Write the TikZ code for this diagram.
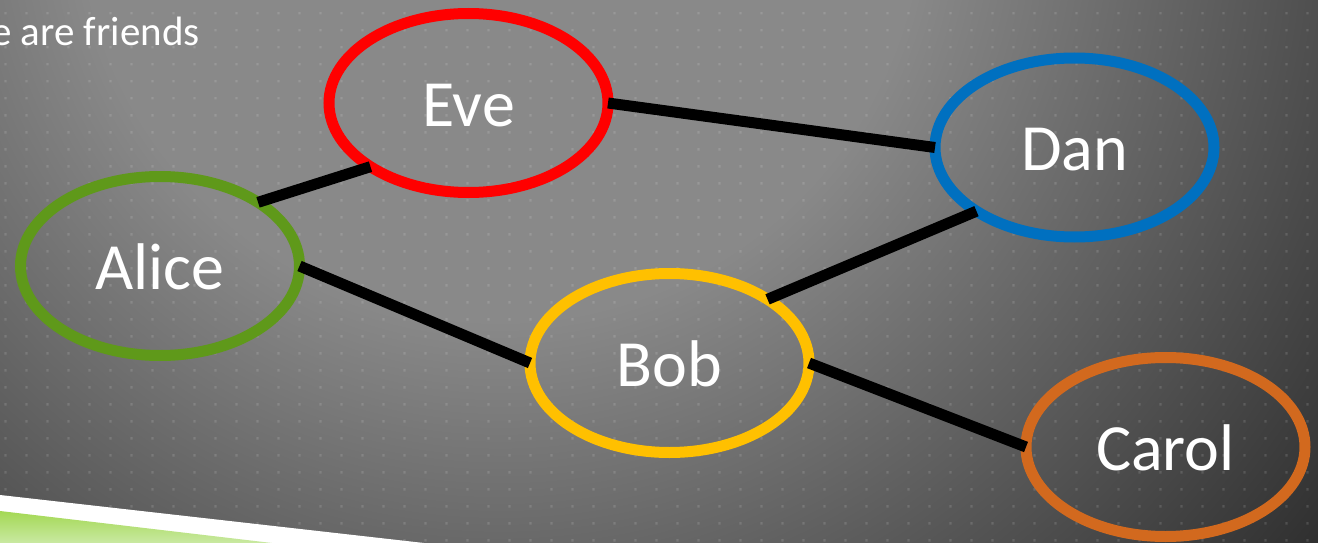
\documentclass[tikz,border=0pt]{standalone}
\usepackage{fontspec}
\setmainfont{Carlito}
\usetikzlibrary{shapes.geometric}

% slide colours
\definecolor{bgInner}{HTML}{898989}
\definecolor{bgOuter}{HTML}{2E2E2E}
\definecolor{eveRed}{HTML}{FF0000}
\definecolor{danBlue}{HTML}{0070C0}
\definecolor{aliceGreen}{HTML}{5F991A}
\definecolor{bobGold}{HTML}{FFC000}
\definecolor{carolOrange}{HTML}{D2691E}
\definecolor{swooshTop}{HTML}{A3D853}
\definecolor{swooshBottom}{HTML}{C9E9A2}

% soft light spot near the top of the slide
\pgfdeclareradialshading{slidebg}{\pgfpoint{0bp}{0bp}}{%
  color(0bp)=(bgInner); color(10bp)=(bgInner);
  color(25bp)=(bgOuter); color(50bp)=(bgOuter)}

\tikzset{
  person/.style={ellipse, draw, line width=11pt,
    minimum width=279pt, minimum height=179pt,
    inner sep=0pt, outer sep=0pt, text=white,
    font=\fontsize{66}{66}\selectfont,
    text height=46pt, text depth=0pt},
  link/.style={draw=black, line width=11pt, line cap=butt},
  gridDot/.style={fill=white, fill opacity=0.13},
}

\begin{document}
\begin{tikzpicture}[x=1pt, y=-1pt]
\useasboundingbox (0,0) rectangle (1318,543);

\begin{scope}
  \clip (0,0) rectangle (1318,543);
  % background
  \shade[shading=slidebg] (500,-100) circle (1050pt);
  % dotted grid
  \fill[gridDot] \foreach \i in {0,...,62} {
      \foreach \j in {0,...,31} {
        (5.5+21*\i-1.2, 13.3+17*\j-1.2) rectangle ++(2.4,2.4)
      }
    };
  % corner swoosh
  \fill[white] (0,495) -- (424,543) -- (0,543) -- cycle;
  \shade[top color=swooshTop, bottom color=swooshBottom]
    (0,511) -- (272,543) -- (0,543) -- cycle;
  % heading line
  \node[anchor=base west, inner sep=0pt, text=white,
        font=\fontsize{41}{41}\selectfont] (heading) at (-9,46) {e are friends};
\end{scope}

% people
\node[person, draw=eveRed]      (eve)   at (468.5,103)   {Eve};
\node[person, draw=danBlue]     (dan)   at (1074.5,147.5) {Dan};
\node[person, draw=aliceGreen]  (alice) at (160,266)     {Alice};
\node[person, draw=bobGold]     (bob)   at (669.5,363)   {Bob};
\node[person, draw=carolOrange] (carol) at (1165.5,447)  {Carol};

% friendships
\draw[link] (alice.33) -- (eve.213);
\draw[link] (alice.east) -- (bob.west);
\draw[link] (eve.east) -- (dan.west);
\draw[link] (bob.33) -- (dan.213);
\draw[link] (bob.east) -- (carol.west);
\end{tikzpicture}
\end{document}
